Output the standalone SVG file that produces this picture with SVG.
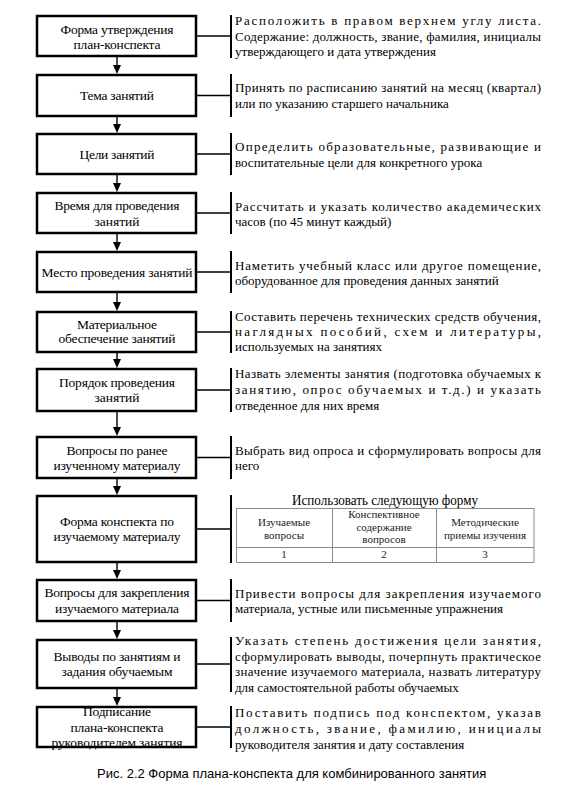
<svg xmlns="http://www.w3.org/2000/svg" width="562" height="797" viewBox="0 0 562 797">
<style>
.bg{fill:#fff}
.box{fill:#fff;stroke:#000;stroke-width:2.5}
.bt{font-family:"Liberation Serif",Tinos,"Times New Roman",Times,"DejaVu Serif","Noto Serif",serif;font-size:13.5px;fill:#000;text-anchor:middle}
.rt{font-family:"Liberation Serif",Tinos,"Times New Roman",Times,"DejaVu Serif","Noto Serif",serif;font-size:13px;fill:#000}
.ln{stroke:#000;stroke-width:1.4;fill:none}
.bar{stroke:#000;stroke-width:2;fill:none}
.ah{fill:#000}
.tb{stroke:#8a8a8a;stroke-width:1;fill:none}
.tt{font-family:"Liberation Serif",Tinos,"Times New Roman",Times,"DejaVu Serif","Noto Serif",serif;font-size:11px;fill:#222;text-anchor:middle}
.ti{font-family:"Liberation Serif",Tinos,"Times New Roman",Times,"DejaVu Serif","Noto Serif",serif;font-size:14px;fill:#000;text-anchor:middle}
.cap{font-family:"Liberation Sans",Arial,sans-serif;font-size:13px;fill:#000}
</style>
<rect class="bg" x="0" y="0" width="562" height="797"/>
<g id="connectors">
<line class="ln" x1="117" y1="57" x2="117" y2="66"/><polygon class="ah" points="113,65 121,65 117,74"/>
<line class="ln" x1="117" y1="117" x2="117" y2="125"/><polygon class="ah" points="113,124 121,124 117,133"/>
<line class="ln" x1="117" y1="175" x2="117" y2="184"/><polygon class="ah" points="113,183 121,183 117,192"/>
<line class="ln" x1="117" y1="234" x2="117" y2="243"/><polygon class="ah" points="113,242 121,242 117,251"/>
<line class="ln" x1="117" y1="293" x2="117" y2="303"/><polygon class="ah" points="113,302 121,302 117,311"/>
<line class="ln" x1="117" y1="353" x2="117" y2="360"/><polygon class="ah" points="113,359 121,359 117,368"/>
<line class="ln" x1="117" y1="412" x2="117" y2="428"/><polygon class="ah" points="113,427 121,427 117,436"/>
<line class="ln" x1="117" y1="479" x2="117" y2="487"/><polygon class="ah" points="113,486 121,486 117,495"/>
<line class="ln" x1="117" y1="563" x2="117" y2="571"/><polygon class="ah" points="113,570 121,570 117,579"/>
<line class="ln" x1="117" y1="622" x2="117" y2="631"/><polygon class="ah" points="113,630 121,630 117,639"/>
<line class="ln" x1="117" y1="689" x2="117" y2="698"/><polygon class="ah" points="113,697 121,697 117,706"/>
<line class="ln" x1="197" y1="36" x2="231" y2="36"/><line class="bar" x1="231" y1="15" x2="231" y2="58"/>
<line class="ln" x1="197" y1="95.5" x2="231" y2="95.5"/><line class="bar" x1="231" y1="74" x2="231" y2="117"/>
<line class="ln" x1="197" y1="154" x2="231" y2="154"/><line class="bar" x1="231" y1="133" x2="231" y2="175"/>
<line class="ln" x1="197" y1="213" x2="231" y2="213"/><line class="bar" x1="231" y1="192" x2="231" y2="234"/>
<line class="ln" x1="197" y1="272" x2="231" y2="272"/><line class="bar" x1="231" y1="251" x2="231" y2="293"/>
<line class="ln" x1="197" y1="332" x2="231" y2="332"/><line class="bar" x1="231" y1="311" x2="231" y2="353"/>
<line class="ln" x1="197" y1="390" x2="231" y2="390"/><line class="bar" x1="231" y1="368" x2="231" y2="412"/>
<line class="ln" x1="197" y1="457.5" x2="231" y2="457.5"/><line class="bar" x1="231" y1="436" x2="231" y2="479"/>
<line class="ln" x1="197" y1="529" x2="231" y2="529"/><line class="bar" x1="231" y1="495" x2="231" y2="563"/>
<line class="ln" x1="197" y1="600.5" x2="231" y2="600.5"/><line class="bar" x1="231" y1="579" x2="231" y2="622"/>
<line class="ln" x1="197" y1="664" x2="231" y2="664"/><line class="bar" x1="231" y1="637" x2="231" y2="692"/>
<line class="ln" x1="197" y1="727" x2="231" y2="727"/><line class="bar" x1="231" y1="706" x2="231" y2="748"/>
</g>
<g id="n1"><rect class="box" x="37" y="16" width="159" height="40"/>
<text class="bt" x="117" y="33.5" textLength="113">Форма утверждения</text><text class="bt" x="117" y="48.5" textLength="87">план-конспекта</text>
<text class="rt" x="235" y="25" textLength="306" lengthAdjust="spacing">Расположить в правом верхнем углу листа.</text>
<text class="rt" x="235" y="40.5" textLength="306" lengthAdjust="spacing">Содержание: должность, звание, фамилия, инициалы</text>
<text class="rt" x="235" y="56">утверждающего и дата утверждения</text></g>
<g id="n2"><rect class="box" x="37" y="75" width="159" height="41"/>
<text class="bt" x="117" y="100" textLength="74">Тема занятий</text>
<text class="rt" x="235" y="92" textLength="306" lengthAdjust="spacing">Принять по расписанию занятий на месяц (квартал)</text>
<text class="rt" x="235" y="108">или по указанию старшего начальника</text></g>
<g id="n3"><rect class="box" x="37" y="134" width="159" height="40"/>
<text class="bt" x="117" y="159" textLength="75">Цели занятий</text>
<text class="rt" x="235" y="150.5" textLength="306" lengthAdjust="spacing">Определить образовательные, развивающие и</text>
<text class="rt" x="235" y="167">воспитательные цели для конкретного урока</text></g>
<g id="n4"><rect class="box" x="37" y="193" width="159" height="40"/>
<text class="bt" x="117" y="210" textLength="125">Время для проведения</text><text class="bt" x="117" y="225.5">занятий</text>
<text class="rt" x="235" y="210.5" textLength="306" lengthAdjust="spacing">Рассчитать и указать количество академических</text>
<text class="rt" x="235" y="226">часов (по 45 минут каждый)</text></g>
<g id="n5"><rect class="box" x="37" y="252" width="159" height="40"/>
<text class="bt" x="117" y="276.5" textLength="151">Место проведения занятий</text>
<text class="rt" x="235" y="269.5" textLength="306" lengthAdjust="spacing">Наметить учебный класс или другое помещение,</text>
<text class="rt" x="235" y="284.5">оборудованное для проведения данных занятий</text></g>
<g id="n6"><rect class="box" x="37" y="312" width="159" height="40"/>
<text class="bt" x="117" y="328.5" textLength="80">Материальное</text><text class="bt" x="117" y="343" textLength="117">обеспечение занятий</text>
<text class="rt" x="235" y="320.5" textLength="306" lengthAdjust="spacing">Составить перечень технических средств обучения,</text>
<text class="rt" x="235" y="336" textLength="306" lengthAdjust="spacing">наглядных пособий, схем и литературы,</text>
<text class="rt" x="235" y="351">используемых на занятиях</text></g>
<g id="n7"><rect class="box" x="37" y="369" width="159" height="42"/>
<text class="bt" x="117" y="386.5" textLength="116">Порядок проведения</text><text class="bt" x="117" y="402">занятий</text>
<text class="rt" x="235" y="377.5" textLength="306" lengthAdjust="spacing">Назвать элементы занятия (подготовка обучаемых к</text>
<text class="rt" x="235" y="393.5" textLength="306" lengthAdjust="spacing">занятию, опрос обучаемых и т.д.) и указать</text>
<text class="rt" x="235" y="409.5">отведенное для них время</text></g>
<g id="n8"><rect class="box" x="37" y="437" width="159" height="41"/>
<text class="bt" x="117" y="454.5" textLength="101">Вопросы по ранее</text><text class="bt" x="117" y="470" textLength="127">изученному материалу</text>
<text class="rt" x="235" y="454.5" textLength="306" lengthAdjust="spacing">Выбрать вид опроса и сформулировать  вопросы для</text>
<text class="rt" x="235" y="469.5">него</text></g>
<g id="n9"><rect class="box" x="37" y="496" width="159" height="66"/>
<text class="bt" x="117" y="526" textLength="114">Форма конспекта по</text><text class="bt" x="117" y="541" textLength="127">изучаемому материалу</text>
<text class="ti" x="385" y="505" textLength="186" lengthAdjust="spacingAndGlyphs">Использовать следующую форму</text>
<rect class="tb" x="236.5" y="508.5" width="297.5" height="54"/>
<line class="tb" x1="236.5" y1="547.5" x2="534" y2="547.5"/>
<line class="tb" x1="332.5" y1="508.5" x2="332.5" y2="562.5"/>
<line class="tb" x1="436.5" y1="508.5" x2="436.5" y2="562.5"/>
<text class="tt" x="284" y="526">Изучаемые</text><text class="tt" x="284" y="538.5">вопросы</text>
<text class="tt" x="384" y="518">Конспективное</text><text class="tt" x="384" y="530.5">содержание</text><text class="tt" x="384" y="543">вопросов</text>
<text class="tt" x="485" y="526">Методические</text><text class="tt" x="485" y="538.5">приемы изучения</text>
<text class="tt" x="284" y="558">1</text><text class="tt" x="384" y="558">2</text><text class="tt" x="485" y="558">3</text></g>
<g id="n10"><rect class="box" x="37" y="580" width="159" height="41"/>
<text class="bt" x="117" y="597" textLength="145">Вопросы для закрепления</text><text class="bt" x="117" y="613" textLength="124">изучаемого материала</text>
<text class="rt" x="235" y="597.5" textLength="306" lengthAdjust="spacing">Привести вопросы для закрепления изучаемого</text>
<text class="rt" x="235" y="612.5">материала, устные или письменные упражнения</text></g>
<g id="n11"><rect class="box" x="37" y="640" width="159" height="48"/>
<text class="bt" x="117" y="660.5" textLength="127">Выводы по занятиям и</text><text class="bt" x="117" y="676" textLength="111">задания обучаемым</text>
<text class="rt" x="235" y="645" textLength="306" lengthAdjust="spacing">Указать степень достижения цели занятия,</text>
<text class="rt" x="235" y="660.5" textLength="306" lengthAdjust="spacing">сформулировать выводы, почерпнуть практическое</text>
<text class="rt" x="235" y="676" textLength="306" lengthAdjust="spacing">значение изучаемого материала, назвать литературу</text>
<text class="rt" x="235" y="691.5">для самостоятельной работы обучаемых</text></g>
<g id="n12">
<text class="bt" x="117" y="715.5" textLength="68">Подписание</text><text class="bt" x="117" y="731.5" textLength="93">плана-конспекта</text><text class="bt" x="117" y="747" textLength="131">руководителем занятия</text>
<rect class="box" x="37" y="707" width="159" height="40" style="fill:none"/>
<text class="rt" x="235" y="716.5" textLength="306" lengthAdjust="spacing">Поставить подпись под конспектом, указав</text>
<text class="rt" x="235" y="732.5" textLength="306" lengthAdjust="spacing">должность, звание, фамилию, инициалы</text>
<text class="rt" x="235" y="748.5">руководителя занятия и дату составления</text></g>
<text class="cap" x="97" y="777.5">Рис. 2.2 Форма плана-конспекта для комбинированного занятия</text>
</svg>
